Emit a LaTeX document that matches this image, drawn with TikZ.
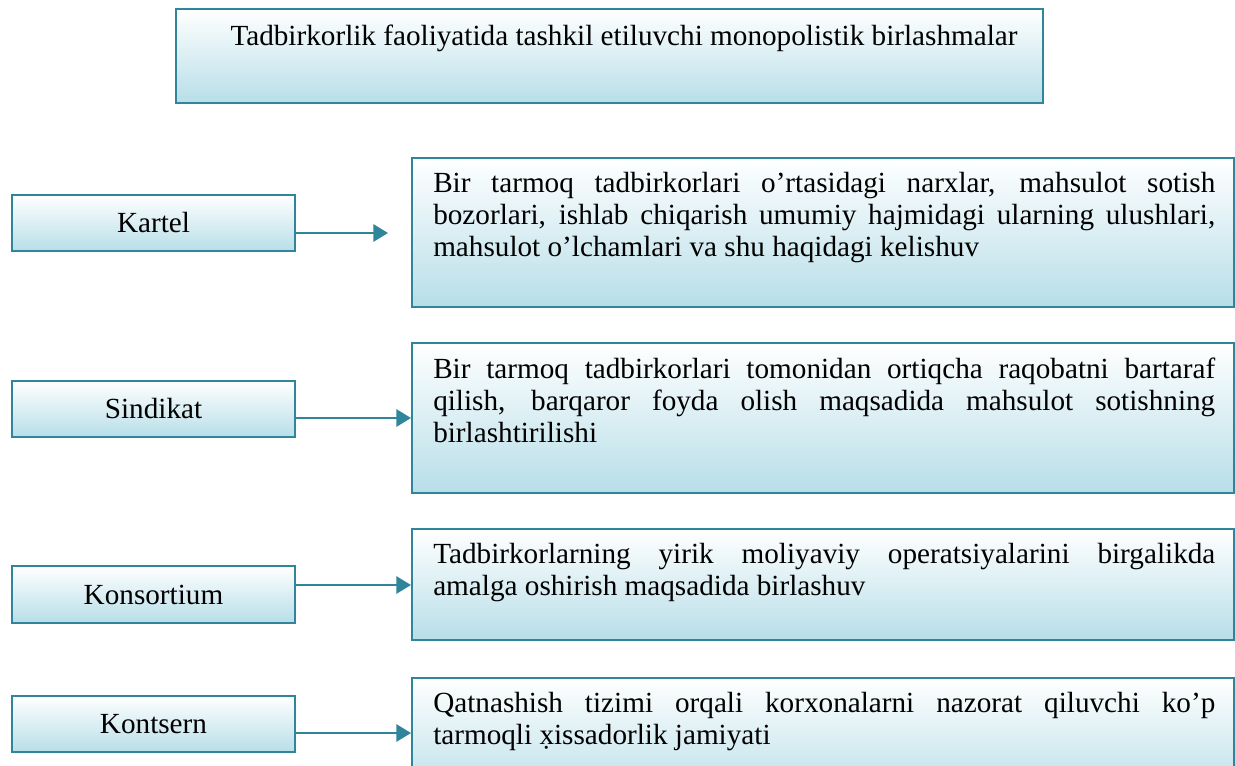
\documentclass[tikz,border=0pt]{standalone}
\usepackage{fontspec}
\setmainfont{Liberation Serif}
\usetikzlibrary{arrows.meta}
\definecolor{edgeblue}{RGB}{49,133,155}
\definecolor{fillblue}{RGB}{183,222,232}
\tikzset{
  box/.style={rectangle, draw=edgeblue, line width=1.5pt, top color=white, bottom color=fillblue, inner sep=0pt},
  lbox/.style={box, minimum width=212.25pt, minimum height=42.5pt, font=\fontsize{21.9pt}{24pt}\selectfont},
  rbox/.style={box, minimum width=616.5pt},
  desc/.style={anchor=north west, inner sep=0pt, text width=586.5pt, align=justify, font=\fontsize{21.9pt}{24pt}\selectfont},
  arr/.style={draw=edgeblue, line width=1.5pt, -{Triangle[length=11pt,width=13pt]}}
}
\begin{document}
\begin{tikzpicture}[x=0.75pt,y=-0.75pt]
\clip (0,0) rectangle (1235,765);
\fill[white] (0,0) rectangle (1235,765);
% title
\node[box, minimum width=650.25pt, minimum height=70.5pt] (title) at (609.5,56) {};
\node[anchor=base, inner sep=0pt, font=\fontsize{21.9pt}{24pt}\selectfont] (titleT) at (624,45) {Tadbirkorlik faoliyatida tashkil etiluvchi monopolistik birlashmalar};
% left boxes
\node[lbox] (kartel) at (153.5,223) {Kartel};
\node[lbox] (sindikat) at (153.5,409) {Sindikat};
\node[lbox] (konsort) at (153.5,594.5) {Konsortium};
\node[lbox] (kontsern) at (153.5,724) {Kontsern};
% right boxes
\node[rbox, minimum height=111.75pt] (kartelD) at (823,232.5) {};
\node[rbox, minimum height=112.5pt] (sindikatD) at (823,418) {};
\node[rbox, minimum height=83.25pt] (konsortD) at (823,584.5) {};
\node[rbox, minimum height=91.5pt] (kontsernD) at (823,739) {};
% texts
\node[desc] (kartelT) at (433,172) {Bir tarmoq tadbirkorlari o’rtasidagi narxlar, mahsulot sotish\linebreak bozorlari, ishlab chiqarish umumiy hajmidagi ularning ulushlari,\linebreak mahsulot o’lchamlari va shu haqidagi kelishuv};
\node[desc] (sindikatT) at (433,357.5) {Bir tarmoq tadbirkorlari tomonidan ortiqcha raqobatni bartaraf\linebreak qilish, barqaror foyda olish maqsadida mahsulot sotishning\linebreak birlashtirilishi};
\node[desc] (konsortT) at (433,543) {Tadbirkorlarning yirik moliyaviy operatsiyalarini birgalikda\linebreak amalga oshirish maqsadida birlashuv};
\node[desc] (kontsernT) at (433,692) {Qatnashish tizimi orqali korxonalarni nazorat qiluvchi ko’p\linebreak tarmoqli x̣issadorlik jamiyati};
% connectors
\coordinate (kEnd) at (388,233);
\coordinate (sLev) at (0,418);
\coordinate (cLev) at (0,585);
\coordinate (tLev) at (0,733);
\draw[arr] (kartel.east |- kEnd) -- (kEnd);
\draw[arr] (sindikat.east |- sLev) -- (sindikatD.west |- sLev);
\draw[arr] (konsort.east |- cLev) -- (konsortD.west |- cLev);
\draw[arr] (kontsern.east |- tLev) -- (kontsernD.west |- tLev);
\end{tikzpicture}
\end{document}
